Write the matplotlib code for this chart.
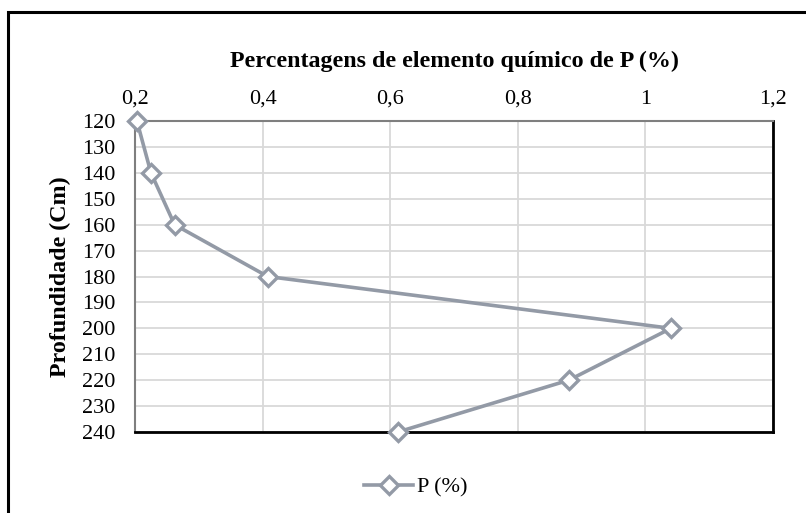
import matplotlib.pyplot as plt
from matplotlib.patches import Rectangle
from matplotlib.lines import Line2D

plt.rcParams['font.family'] = ['Liberation Serif', 'DejaVu Serif']

# data
depth = [120, 140, 160, 180, 200, 220, 240]
p_pct = [0.203, 0.225, 0.262, 0.408, 1.04, 0.88, 0.612]
x_ticks = [0.2, 0.4, 0.6, 0.8, 1.0, 1.2]
x_labels = ['0,2', '0,4', '0,6', '0,8', '1', '1,2']
y_ticks = list(range(120, 241, 10))

line_col = '#939aa6'

fig = plt.figure(figsize=(8.06, 5.13), dpi=100)
W, H = 806, 513
ax = fig.add_axes([135 / W, 1 - 432 / H, (773 - 135) / W, (432 - 121) / H])

ax.plot(p_pct, depth, color=line_col, lw=2.6, marker='D', ms=9,
        mfc='white', mec=line_col, mew=2.4, clip_on=False, zorder=5)

ax.set_xlim(0.2, 1.2)
ax.set_ylim(240, 120)
ax.set_xticks(x_ticks)
ax.set_xticklabels(x_labels)
ax.set_yticks(y_ticks)
ax.xaxis.tick_top()
ax.xaxis.set_label_position('top')
ax.tick_params(length=0, labelsize=16, pad=9)
ax.tick_params(axis='y', pad=14)
ax.grid(True, color='#d9d9d9', lw=1.3)
ax.set_axisbelow(True)

for s in ['top', 'left']:
    ax.spines[s].set_color('#7f7f7f')
    ax.spines[s].set_linewidth(1.5)
for s in ['bottom', 'right']:
    ax.spines[s].set_color('black')
    ax.spines[s].set_linewidth(2)

ax.set_xlabel('Percentagens de elemento químico de P (%)', fontsize=17.3,
              fontweight='bold', labelpad=16)
ax.set_ylabel('Profundidade (Cm)', fontsize=17.3, fontweight='bold', labelpad=8)

# outer chart frame
fig.patches.append(Rectangle((8 / W, -0.05), 1.1, 1 - 12 / H + 0.05,
                             transform=fig.transFigure, fill=False,
                             ec='black', lw=2.2))

handle = Line2D([], [], color=line_col, lw=2.6, marker='D', ms=9,
                mfc='white', mec=line_col, mew=2.4)
fig.legend([handle], ['P (%)'], loc='center', bbox_to_anchor=(416 / W, 1 - 487 / H),
           frameon=False, fontsize=16, handlelength=2.2, handletextpad=0.2)

fig.savefig('out.png', dpi=100)
